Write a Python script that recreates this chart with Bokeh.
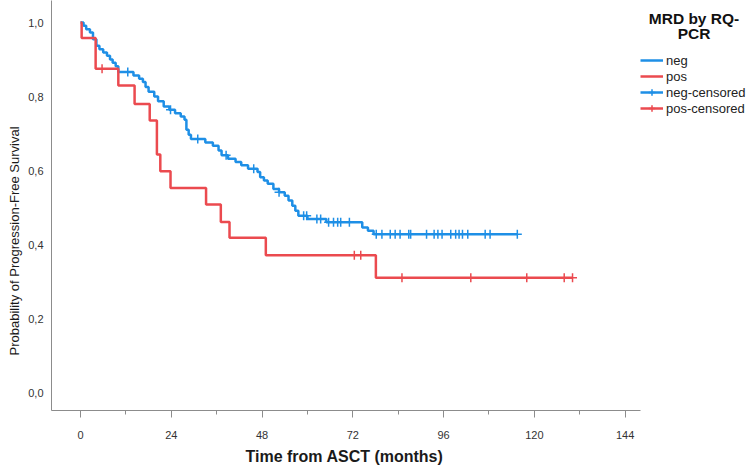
import bisect
from bokeh.plotting import figure
from bokeh.models import (Range1d, FixedTicker, CustomJSTickFormatter, Legend,
                          LegendItem, Label, Title)
from bokeh.embed import file_html
from bokeh.resources import INLINE

# ---------------- data ----------------
groups = ["neg", "pos"]

neg_event_time = [0.8, 1.5, 2.5, 3.3, 4.2, 5.0, 6.0, 7.0, 7.8, 8.5, 9.3, 10.0,
                  14.0, 15.5, 16.5, 17.2, 18.0, 19.5, 20.5, 22.0, 23.5, 25.0,
                  26.5, 27.5, 28.0, 28.6, 29.2, 33.0, 35.0, 36.5, 37.3, 39.0,
                  41.0, 42.5, 44.3, 46.8, 47.5, 48.5, 49.5, 51.0, 52.5, 54.0,
                  55.0, 56.0, 56.8, 57.6, 60.0, 65.0, 74.5, 76.0, 77.5]
neg_event_surv = [0.991, 0.982, 0.973, 0.955, 0.937, 0.928, 0.919, 0.910, 0.900,
                  0.891, 0.882, 0.866, 0.857, 0.848, 0.839, 0.826, 0.813, 0.800,
                  0.787, 0.773, 0.764, 0.755, 0.746, 0.737, 0.710, 0.697, 0.685,
                  0.676, 0.667, 0.654, 0.641, 0.632, 0.623, 0.614, 0.605, 0.596,
                  0.582, 0.573, 0.564, 0.550, 0.541, 0.532, 0.519, 0.505, 0.491,
                  0.478, 0.469, 0.460, 0.446, 0.437, 0.428]
neg_end_time = 115.5
neg_cens_time = [12.5, 23.8, 31.0, 38.5, 45.8, 52.5, 59.0, 59.8, 62.5, 63.5,
                 65.6, 66.9, 68.0, 68.8, 71.1, 78.2, 79.7, 81.9, 83.2, 84.5,
                 86.8, 87.3, 91.5, 93.5, 94.5, 95.6, 97.9, 99.2, 100.1, 101.0,
                 102.4, 107.0, 108.3, 115.5]

pos_event_time = [0.3, 4.0, 10.0, 14.3, 18.3, 20.2, 21.1, 23.8, 33.2, 37.1,
                  39.4, 49.0, 78.1]
pos_event_surv = [0.958, 0.875, 0.830, 0.780, 0.735, 0.643, 0.598, 0.553,
                  0.508, 0.461, 0.418, 0.371, 0.310]
pos_end_time = 130.1
pos_cens_time = [5.7, 72.4, 74.1, 85.0, 103.2, 118.0, 127.9, 130.1]

x_ticks = [0, 24, 48, 72, 96, 120, 144]
x_minor_ticks = [12, 36, 60, 84, 108, 132]
y_ticks = [0.0, 0.2, 0.4, 0.6, 0.8, 1.0]

x_title = "Time from ASCT (months)"
y_title = "Probability of Progression-Free Survival"
legend_title = ["MRD by RQ-", "PCR"]
legend_labels = ["neg", "pos", "neg-censored", "pos-censored"]

BLUE = "#1e8fe6"
RED = "#eb4a4f"
FONT = "Liberation Sans"
AX = "#8c8c8c"

X_AXIS_END = 148.1


def km_path(times, surv, end):
    xs = [0.0] + list(times) + [end]
    ys = [1.0] + list(surv) + [surv[-1]]
    return xs, ys


def level_at(times, surv, t):
    i = bisect.bisect_right(times, t) - 1
    return 1.0 if i < 0 else surv[i]


p = figure(frame_width=695, frame_height=410,
           x_range=Range1d(-7.67, 176.1), y_range=Range1d(-0.0486, 1.0595),
           output_backend="svg", toolbar_location=None,
           min_border_left=50, min_border_top=0, min_border_bottom=59,
           min_border_right=0)
p.outline_line_color = None
p.xgrid.visible = False
p.ygrid.visible = False
p.background_fill_color = "white"
p.border_fill_color = "white"

nx, ny = km_path(neg_event_time, neg_event_surv, neg_end_time)
px_, py_ = km_path(pos_event_time, pos_event_surv, pos_end_time)

neg_line = p.step(nx, ny, mode="after", line_color=BLUE, line_width=2.5)
pos_line = p.step(px_, py_, mode="after", line_color=RED, line_width=2.5)

neg_cy = [level_at(neg_event_time, neg_event_surv, t) for t in neg_cens_time]
pos_cy = [level_at(pos_event_time, pos_event_surv, t) for t in pos_cens_time]
neg_c = p.scatter(neg_cens_time, neg_cy, marker="cross", size=9,
                  line_color=BLUE, line_width=1.5)
pos_c = p.scatter(pos_cens_time, pos_cy, marker="cross", size=9,
                  line_color=RED, line_width=1.5)

# x axis
xa = p.xaxis[0]
xa.bounds = (-7.67, X_AXIS_END)
xa.ticker = FixedTicker(ticks=x_ticks, minor_ticks=x_minor_ticks)
xa.axis_line_color = AX
xa.major_tick_line_color = AX
xa.minor_tick_line_color = AX
xa.major_tick_in = 0
xa.major_tick_out = 7
xa.minor_tick_in = 0
xa.minor_tick_out = 4
xa.major_label_standoff = 13
xa.major_label_text_font = FONT
xa.major_label_text_font_size = "11px"
xa.major_label_text_color = "#333333"

# y axis
ya = p.yaxis[0]
ya.ticker = FixedTicker(ticks=y_ticks, minor_ticks=[])
ya.formatter = CustomJSTickFormatter(code="return tick.toFixed(1).replace('.', ',');")
ya.axis_line_color = AX
ya.major_tick_line_color = None
ya.minor_tick_line_color = None
ya.major_tick_in = 0
ya.major_tick_out = 0
ya.minor_tick_out = 0
ya.major_label_standoff = 8
ya.major_label_text_font = FONT
ya.major_label_text_font_size = "11px"
ya.major_label_text_color = "#333333"

# axis titles (placed as side titles so they can be positioned like the reference)
p.add_layout(Title(text=x_title, align="left", offset=194, standoff=8,
                   text_font=FONT, text_font_size="16px", text_font_style="bold",
                   text_color="#1a1a1a"), "below")
p.add_layout(Title(text=y_title, align="left", offset=55, standoff=8,
                   text_font=FONT, text_font_size="13px", text_font_style="normal",
                   text_color="#1a1a1a"), "left")

# legend
items = [LegendItem(label=legend_labels[0], renderers=[neg_line]),
         LegendItem(label=legend_labels[1], renderers=[pos_line]),
         LegendItem(label=legend_labels[2], renderers=[neg_line, neg_c]),
         LegendItem(label=legend_labels[3], renderers=[pos_line, pos_c])]
leg = Legend(items=items, location=(589, 294), padding=0, margin=0, spacing=0,
             glyph_width=23, glyph_height=16, label_height=16, label_standoff=3,
             label_text_font=FONT, label_text_font_size="13px",
             label_text_color="#222222", border_line_color=None,
             background_fill_alpha=0)
p.add_layout(leg, "center")

for txt, yy in zip(legend_title, [392, 377]):
    p.add_layout(Label(x=642.5, y=yy, x_units="screen", y_units="screen",
                       text=txt, text_align="center", text_baseline="middle",
                       text_font=FONT, text_font_size="15.5px",
                       text_font_style="bold", text_color="#111111"))

open("out.html", "w").write(file_html(p, INLINE))
